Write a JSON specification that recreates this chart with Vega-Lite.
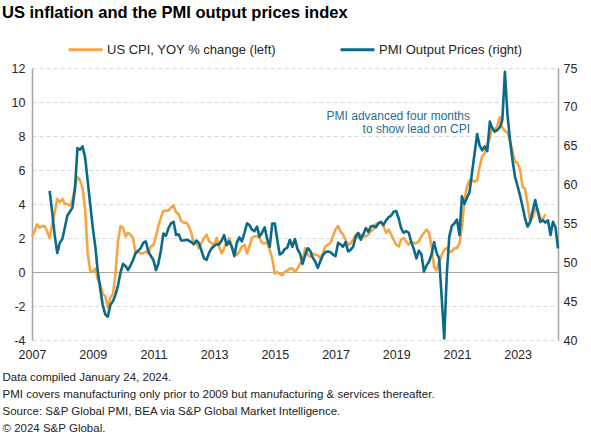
{
  "$schema": "https://vega.github.io/schema/vega-lite/v6.json",
  "width": 526,
  "height": 272,
  "autosize": {"type": "none"},
  "padding": {"left": 32, "top": 68, "right": 33, "bottom": 96},
  "background": "white",
  "title": {
    "text": "US inflation and the PMI output prices index",
    "anchor": "start",
    "frame": "group",
    "dx": -30,
    "offset": 10,
    "fontSize": 16.5,
    "fontWeight": "bold",
    "font": "Liberation Sans",
    "color": "#000000"
  },
  "config": {
    "font": "Liberation Sans",
    "view": {"stroke": null},
    "axis": {"labelColor": "#262626", "labelFontSize": 12, "labelFont": "Liberation Sans"}
  },
  "datasets": {
    "cpi": [
      {"d":"2007-01","v":2.1},{"d":"2007-02","v":2.4},{"d":"2007-03","v":2.8},{"d":"2007-04","v":2.6},{"d":"2007-05","v":2.7},{"d":"2007-06","v":2.7},{"d":"2007-07","v":2.4},{"d":"2007-08","v":2.0},{"d":"2007-09","v":2.8},{"d":"2007-10","v":3.5},{"d":"2007-11","v":4.3},{"d":"2007-12","v":4.1},
      {"d":"2008-01","v":4.3},{"d":"2008-02","v":4.0},{"d":"2008-03","v":4.0},{"d":"2008-04","v":3.9},{"d":"2008-05","v":4.2},{"d":"2008-06","v":5.0},{"d":"2008-07","v":5.6},{"d":"2008-08","v":5.4},{"d":"2008-09","v":4.9},{"d":"2008-10","v":3.7},{"d":"2008-11","v":1.1},{"d":"2008-12","v":0.1},
      {"d":"2009-01","v":0.0},{"d":"2009-02","v":0.2},{"d":"2009-03","v":-0.4},{"d":"2009-04","v":-0.7},{"d":"2009-05","v":-1.3},{"d":"2009-06","v":-1.4},{"d":"2009-07","v":-2.1},{"d":"2009-08","v":-1.5},{"d":"2009-09","v":-1.3},{"d":"2009-10","v":-0.2},{"d":"2009-11","v":1.8},{"d":"2009-12","v":2.7},
      {"d":"2010-01","v":2.6},{"d":"2010-02","v":2.1},{"d":"2010-03","v":2.3},{"d":"2010-04","v":2.2},{"d":"2010-05","v":2.0},{"d":"2010-06","v":1.1},{"d":"2010-07","v":1.2},{"d":"2010-08","v":1.1},{"d":"2010-09","v":1.1},{"d":"2010-10","v":1.2},{"d":"2010-11","v":1.1},{"d":"2010-12","v":1.5},
      {"d":"2011-01","v":1.6},{"d":"2011-02","v":2.1},{"d":"2011-03","v":2.7},{"d":"2011-04","v":3.2},{"d":"2011-05","v":3.6},{"d":"2011-06","v":3.6},{"d":"2011-07","v":3.6},{"d":"2011-08","v":3.8},{"d":"2011-09","v":3.9},{"d":"2011-10","v":3.5},{"d":"2011-11","v":3.4},{"d":"2011-12","v":3.0},
      {"d":"2012-01","v":2.9},{"d":"2012-02","v":2.9},{"d":"2012-03","v":2.7},{"d":"2012-04","v":2.3},{"d":"2012-05","v":1.7},{"d":"2012-06","v":1.7},{"d":"2012-07","v":1.4},{"d":"2012-08","v":1.7},{"d":"2012-09","v":2.0},{"d":"2012-10","v":2.2},{"d":"2012-11","v":1.8},{"d":"2012-12","v":1.7},
      {"d":"2013-01","v":1.6},{"d":"2013-02","v":2.0},{"d":"2013-03","v":1.5},{"d":"2013-04","v":1.1},{"d":"2013-05","v":1.4},{"d":"2013-06","v":1.8},{"d":"2013-07","v":2.0},{"d":"2013-08","v":1.5},{"d":"2013-09","v":1.2},{"d":"2013-10","v":1.0},{"d":"2013-11","v":1.2},{"d":"2013-12","v":1.5},
      {"d":"2014-01","v":1.6},{"d":"2014-02","v":1.1},{"d":"2014-03","v":1.5},{"d":"2014-04","v":2.0},{"d":"2014-05","v":2.1},{"d":"2014-06","v":2.1},{"d":"2014-07","v":2.0},{"d":"2014-08","v":1.7},{"d":"2014-09","v":1.7},{"d":"2014-10","v":1.7},{"d":"2014-11","v":1.3},{"d":"2014-12","v":0.8},
      {"d":"2015-01","v":-0.1},{"d":"2015-02","v":0.0},{"d":"2015-03","v":-0.1},{"d":"2015-04","v":-0.2},{"d":"2015-05","v":0.0},{"d":"2015-06","v":0.1},{"d":"2015-07","v":0.2},{"d":"2015-08","v":0.2},{"d":"2015-09","v":0.0},{"d":"2015-10","v":0.2},{"d":"2015-11","v":0.5},{"d":"2015-12","v":0.7},
      {"d":"2016-01","v":1.4},{"d":"2016-02","v":1.0},{"d":"2016-03","v":0.9},{"d":"2016-04","v":1.1},{"d":"2016-05","v":1.0},{"d":"2016-06","v":1.0},{"d":"2016-07","v":0.8},{"d":"2016-08","v":1.1},{"d":"2016-09","v":1.5},{"d":"2016-10","v":1.6},{"d":"2016-11","v":1.7},{"d":"2016-12","v":2.1},
      {"d":"2017-01","v":2.5},{"d":"2017-02","v":2.7},{"d":"2017-03","v":2.4},{"d":"2017-04","v":2.2},{"d":"2017-05","v":1.9},{"d":"2017-06","v":1.6},{"d":"2017-07","v":1.7},{"d":"2017-08","v":1.9},{"d":"2017-09","v":2.2},{"d":"2017-10","v":2.0},{"d":"2017-11","v":2.2},{"d":"2017-12","v":2.1},
      {"d":"2018-01","v":2.1},{"d":"2018-02","v":2.2},{"d":"2018-03","v":2.4},{"d":"2018-04","v":2.5},{"d":"2018-05","v":2.8},{"d":"2018-06","v":2.9},{"d":"2018-07","v":2.9},{"d":"2018-08","v":2.7},{"d":"2018-09","v":2.3},{"d":"2018-10","v":2.5},{"d":"2018-11","v":2.2},{"d":"2018-12","v":1.9},
      {"d":"2019-01","v":1.6},{"d":"2019-02","v":1.5},{"d":"2019-03","v":1.9},{"d":"2019-04","v":2.0},{"d":"2019-05","v":1.8},{"d":"2019-06","v":1.6},{"d":"2019-07","v":1.8},{"d":"2019-08","v":1.7},{"d":"2019-09","v":1.7},{"d":"2019-10","v":1.8},{"d":"2019-11","v":2.1},{"d":"2019-12","v":2.3},
      {"d":"2020-01","v":2.5},{"d":"2020-02","v":2.3},{"d":"2020-03","v":1.5},{"d":"2020-04","v":0.3},{"d":"2020-05","v":0.1},{"d":"2020-06","v":0.6},{"d":"2020-07","v":1.0},{"d":"2020-08","v":1.3},{"d":"2020-09","v":1.4},{"d":"2020-10","v":1.2},{"d":"2020-11","v":1.2},{"d":"2020-12","v":1.4},
      {"d":"2021-01","v":1.4},{"d":"2021-02","v":1.7},{"d":"2021-03","v":2.6},{"d":"2021-04","v":4.2},{"d":"2021-05","v":5.0},{"d":"2021-06","v":5.4},{"d":"2021-07","v":5.4},{"d":"2021-08","v":5.3},{"d":"2021-09","v":5.4},{"d":"2021-10","v":6.2},{"d":"2021-11","v":6.8},{"d":"2021-12","v":7.0},
      {"d":"2022-01","v":7.5},{"d":"2022-02","v":7.9},{"d":"2022-03","v":8.5},{"d":"2022-04","v":8.3},{"d":"2022-05","v":8.6},{"d":"2022-06","v":9.1},{"d":"2022-07","v":8.5},{"d":"2022-08","v":8.3},{"d":"2022-09","v":8.2},{"d":"2022-10","v":7.7},{"d":"2022-11","v":7.1},{"d":"2022-12","v":6.5},
      {"d":"2023-01","v":6.4},{"d":"2023-02","v":6.0},{"d":"2023-03","v":5.0},{"d":"2023-04","v":4.9},{"d":"2023-05","v":4.0},{"d":"2023-06","v":3.0},{"d":"2023-07","v":3.2},{"d":"2023-08","v":3.7},{"d":"2023-09","v":3.7},{"d":"2023-10","v":3.2},{"d":"2023-11","v":3.1},{"d":"2023-12","v":3.4}
    ],
    "pmi": [
      {"d":"2007-08","v":59.2},{"d":"2007-09","v":56.5},{"d":"2007-10","v":53.5},{"d":"2007-11","v":51.2},{"d":"2007-12","v":52.5},
      {"d":"2008-01","v":53.0},{"d":"2008-02","v":54.5},{"d":"2008-03","v":56.0},{"d":"2008-04","v":56.5},{"d":"2008-05","v":57.0},{"d":"2008-06","v":59.5},{"d":"2008-07","v":64.7},{"d":"2008-08","v":64.5},{"d":"2008-09","v":64.9},{"d":"2008-10","v":63.5},{"d":"2008-11","v":60.5},{"d":"2008-12","v":57.5},
      {"d":"2009-01","v":54.5},{"d":"2009-02","v":52.0},{"d":"2009-03","v":49.0},{"d":"2009-04","v":46.6},{"d":"2009-05","v":44.5},{"d":"2009-06","v":43.3},{"d":"2009-07","v":43.0},{"d":"2009-08","v":44.5},{"d":"2009-09","v":45.0},{"d":"2009-10","v":45.8},{"d":"2009-11","v":47.0},{"d":"2009-12","v":48.7},
      {"d":"2010-01","v":49.8},{"d":"2010-02","v":49.5},{"d":"2010-03","v":49.0},{"d":"2010-04","v":49.6},{"d":"2010-05","v":50.3},{"d":"2010-06","v":51.2},{"d":"2010-07","v":51.5},{"d":"2010-08","v":51.8},{"d":"2010-09","v":52.5},{"d":"2010-10","v":52.7},{"d":"2010-11","v":51.4},{"d":"2010-12","v":50.8},
      {"d":"2011-01","v":50.3},{"d":"2011-02","v":49.0},{"d":"2011-03","v":49.8},{"d":"2011-04","v":51.5},{"d":"2011-05","v":53.7},{"d":"2011-06","v":53.4},{"d":"2011-07","v":54.4},{"d":"2011-08","v":55.0},{"d":"2011-09","v":55.2},{"d":"2011-10","v":53.5},{"d":"2011-11","v":53.6},{"d":"2011-12","v":52.8},
      {"d":"2012-01","v":52.8},{"d":"2012-02","v":52.9},{"d":"2012-03","v":52.8},{"d":"2012-04","v":52.6},{"d":"2012-05","v":52.3},{"d":"2012-06","v":52.8},{"d":"2012-07","v":52.5},{"d":"2012-08","v":51.5},{"d":"2012-09","v":50.5},{"d":"2012-10","v":50.3},{"d":"2012-11","v":51.2},{"d":"2012-12","v":51.8},
      {"d":"2013-01","v":52.1},{"d":"2013-02","v":52.3},{"d":"2013-03","v":52.3},{"d":"2013-04","v":52.8},{"d":"2013-05","v":53.5},{"d":"2013-06","v":52.2},{"d":"2013-07","v":52.7},{"d":"2013-08","v":52.0},{"d":"2013-09","v":50.8},{"d":"2013-10","v":52.5},{"d":"2013-11","v":53.2},{"d":"2013-12","v":52.7},
      {"d":"2014-01","v":53.8},{"d":"2014-02","v":55.0},{"d":"2014-03","v":54.8},{"d":"2014-04","v":54.2},{"d":"2014-05","v":54.0},{"d":"2014-06","v":54.6},{"d":"2014-07","v":53.3},{"d":"2014-08","v":53.8},{"d":"2014-09","v":54.5},{"d":"2014-10","v":53.0},{"d":"2014-11","v":52.0},{"d":"2014-12","v":55.0},
      {"d":"2015-01","v":55.0},{"d":"2015-02","v":52.8},{"d":"2015-03","v":51.0},{"d":"2015-04","v":51.2},{"d":"2015-05","v":51.7},{"d":"2015-06","v":51.9},{"d":"2015-07","v":52.9},{"d":"2015-08","v":52.0},{"d":"2015-09","v":53.0},{"d":"2015-10","v":51.7},{"d":"2015-11","v":51.1},{"d":"2015-12","v":49.8},
      {"d":"2016-01","v":50.9},{"d":"2016-02","v":51.8},{"d":"2016-03","v":51.5},{"d":"2016-04","v":50.6},{"d":"2016-05","v":50.1},{"d":"2016-06","v":49.3},{"d":"2016-07","v":50.1},{"d":"2016-08","v":50.9},{"d":"2016-09","v":51.3},{"d":"2016-10","v":51.4},{"d":"2016-11","v":51.3},{"d":"2016-12","v":51.0},
      {"d":"2017-01","v":50.8},{"d":"2017-02","v":52.5},{"d":"2017-03","v":52.3},{"d":"2017-04","v":52.0},{"d":"2017-05","v":52.6},{"d":"2017-06","v":51.4},{"d":"2017-07","v":51.6},{"d":"2017-08","v":52.0},{"d":"2017-09","v":53.3},{"d":"2017-10","v":53.8},{"d":"2017-11","v":52.9},{"d":"2017-12","v":53.6},
      {"d":"2018-01","v":54.4},{"d":"2018-02","v":53.9},{"d":"2018-03","v":54.6},{"d":"2018-04","v":54.7},{"d":"2018-05","v":54.5},{"d":"2018-06","v":55.0},{"d":"2018-07","v":55.2},{"d":"2018-08","v":54.8},{"d":"2018-09","v":55.4},{"d":"2018-10","v":55.8},{"d":"2018-11","v":56.0},{"d":"2018-12","v":56.5},
      {"d":"2019-01","v":56.6},{"d":"2019-02","v":55.6},{"d":"2019-03","v":54.4},{"d":"2019-04","v":53.8},{"d":"2019-05","v":54.0},{"d":"2019-06","v":53.8},{"d":"2019-07","v":52.6},{"d":"2019-08","v":51.7},{"d":"2019-09","v":50.5},{"d":"2019-10","v":51.5},{"d":"2019-11","v":51.0},{"d":"2019-12","v":48.8},
      {"d":"2020-01","v":49.6},{"d":"2020-02","v":50.1},{"d":"2020-03","v":51.0},{"d":"2020-04","v":52.6},{"d":"2020-05","v":51.2},{"d":"2020-06","v":50.5},{"d":"2020-07","v":45.5},{"d":"2020-08","v":40.2},{"d":"2020-09","v":48.5},{"d":"2020-10","v":53.3},{"d":"2020-11","v":54.7},{"d":"2020-12","v":55.0},
      {"d":"2021-01","v":55.5},{"d":"2021-02","v":53.5},{"d":"2021-03","v":58.5},{"d":"2021-04","v":57.5},{"d":"2021-05","v":58.3},{"d":"2021-06","v":59.0},{"d":"2021-07","v":61.5},{"d":"2021-08","v":64.0},{"d":"2021-09","v":66.5},{"d":"2021-10","v":65.0},{"d":"2021-11","v":64.4},{"d":"2021-12","v":64.9},
      {"d":"2022-01","v":64.3},{"d":"2022-02","v":68.1},{"d":"2022-03","v":67.3},{"d":"2022-04","v":66.8},{"d":"2022-05","v":67.0},{"d":"2022-06","v":67.4},{"d":"2022-07","v":68.3},{"d":"2022-08","v":74.5},{"d":"2022-09","v":69.0},{"d":"2022-10","v":65.8},{"d":"2022-11","v":63.1},{"d":"2022-12","v":61.0},
      {"d":"2023-01","v":59.8},{"d":"2023-02","v":58.5},{"d":"2023-03","v":57.2},{"d":"2023-04","v":55.6},{"d":"2023-05","v":54.6},{"d":"2023-06","v":55.2},{"d":"2023-07","v":56.6},{"d":"2023-08","v":58.0},{"d":"2023-09","v":56.5},{"d":"2023-10","v":55.2},{"d":"2023-11","v":55.4},{"d":"2023-12","v":55.1},
      {"d":"2024-01","v":55.4},{"d":"2024-02","v":53.5},{"d":"2024-03","v":55.2},{"d":"2024-04","v":54.5},{"d":"2024-05","v":51.8}
    ],
    "note": [
      {"d":"2021-06-07","v":9.18,"t":"PMI advanced four months"},
      {"d":"2021-06-07","v":8.41,"t":"to show lead on CPI"}
    ]
  },
  "encoding": {
    "x": {
      "field": "d",
      "type": "temporal",
      "scale": {
        "type": "utc",
        "domain": [{"year": 2007, "month": 1, "date": 1, "utc": true}, {"year": 2024, "month": 5, "date": 1, "utc": true}]
      },
      "axis": {
        "values": [
          {"year": 2007, "month": 1, "date": 1, "utc": true},
          {"year": 2009, "month": 1, "date": 1, "utc": true},
          {"year": 2011, "month": 1, "date": 1, "utc": true},
          {"year": 2013, "month": 1, "date": 1, "utc": true},
          {"year": 2015, "month": 1, "date": 1, "utc": true},
          {"year": 2017, "month": 1, "date": 1, "utc": true},
          {"year": 2019, "month": 1, "date": 1, "utc": true},
          {"year": 2021, "month": 1, "date": 1, "utc": true},
          {"year": 2023, "month": 1, "date": 1, "utc": true}
        ],
        "format": "%Y",
        "formatType": "utc",
        "labelFlush": false,
        "labelOverlap": false,
        "domain": false,
        "ticks": false,
        "grid": false,
        "labelPadding": 8,
        "labelFontSize": 12.5,
        "title": [
          "Data compiled January 24, 2024.",
          "PMI covers manufacturing only prior to 2009 but manufacturing & services thereafter.",
          "Source: S&P Global PMI, BEA via S&P Global Market Intelligence.",
          "© 2024 S&P Global."
        ],
        "titleAnchor": "start",
        "titleAlign": "left",
        "titleBaseline": "alphabetic",
        "titleX": -30,
        "titleY": 40,
        "titleFontSize": 11.5,
        "titleFontWeight": "normal",
        "titleLineHeight": 17,
        "titleColor": "#222222",
        "titleFont": "Liberation Sans"
      }
    }
  },
  "layer": [
    {
      "data": {"name": "cpi"},
      "mark": {"type": "line", "strokeWidth": 2.6, "strokeJoin": "round"},
      "encoding": {
        "y": {
          "field": "v",
          "type": "quantitative",
          "scale": {"domain": [-4, 12], "nice": false, "zero": false},
          "axis": {
            "values": [-4, -2, 0, 2, 4, 6, 8, 10, 12],
            "labelExpr": "'' + datum.value",
            "title": null,
            "domain": true,
            "domainColor": "#A6A6A6",
            "domainWidth": 1.5,
            "ticks": false,
            "grid": true,
            "gridColor": {"condition": {"test": "datum.value === 0", "value": "#A6A6A6"}, "value": "#D9D9D9"},
            "gridDash": {"condition": {"test": "datum.value === 0", "value": []}, "value": [4, 3]},
            "gridWidth": 1,
            "labelPadding": 7,
            "labelFontSize": 12.5
          }
        },
        "color": {
          "datum": "US CPI, YOY % change (left)",
          "type": "nominal",
          "scale": {
            "domain": ["US CPI, YOY % change (left)", "PMI Output Prices (right)"],
            "range": ["#F6A544", "#0B6A88"]
          },
          "legend": {
            "orient": "none",
            "legendX": 35,
            "legendY": -37,
            "direction": "horizontal",
            "title": null,
            "symbolType": "stroke",
            "symbolSize": 1156,
            "symbolStrokeWidth": 3,
            "labelFontSize": 13,
            "labelOffset": 3,
            "labelLimit": 400,
            "labelColor": "#262626",
            "labelFont": "Liberation Sans",
            "columnPadding": 57,
            "padding": 0
          }
        }
      }
    },
    {
      "data": {"name": "pmi"},
      "mark": {"type": "line", "strokeWidth": 2.6, "strokeJoin": "round"},
      "encoding": {
        "y": {
          "field": "v",
          "type": "quantitative",
          "scale": {"domain": [40, 75], "nice": false, "zero": false},
          "axis": {
            "orient": "right",
            "values": [40, 45, 50, 55, 60, 65, 70, 75],
            "title": null,
            "domain": true,
            "domainColor": "#A6A6A6",
            "domainWidth": 1.5,
            "ticks": false,
            "grid": false,
            "labelPadding": 5,
            "labelFontSize": 12.5
          }
        },
        "color": {"datum": "PMI Output Prices (right)", "type": "nominal"}
      }
    },
    {
      "data": {"name": "note"},
      "mark": {"type": "text", "align": "right", "baseline": "middle", "fontSize": 12, "color": "#1F6F8B", "font": "Liberation Sans"},
      "encoding": {
        "y": {"field": "v", "type": "quantitative", "scale": {"domain": [-4, 12], "nice": false, "zero": false}, "axis": null},
        "text": {"field": "t"}
      }
    }
  ],
  "resolve": {"scale": {"y": "independent"}}
}
